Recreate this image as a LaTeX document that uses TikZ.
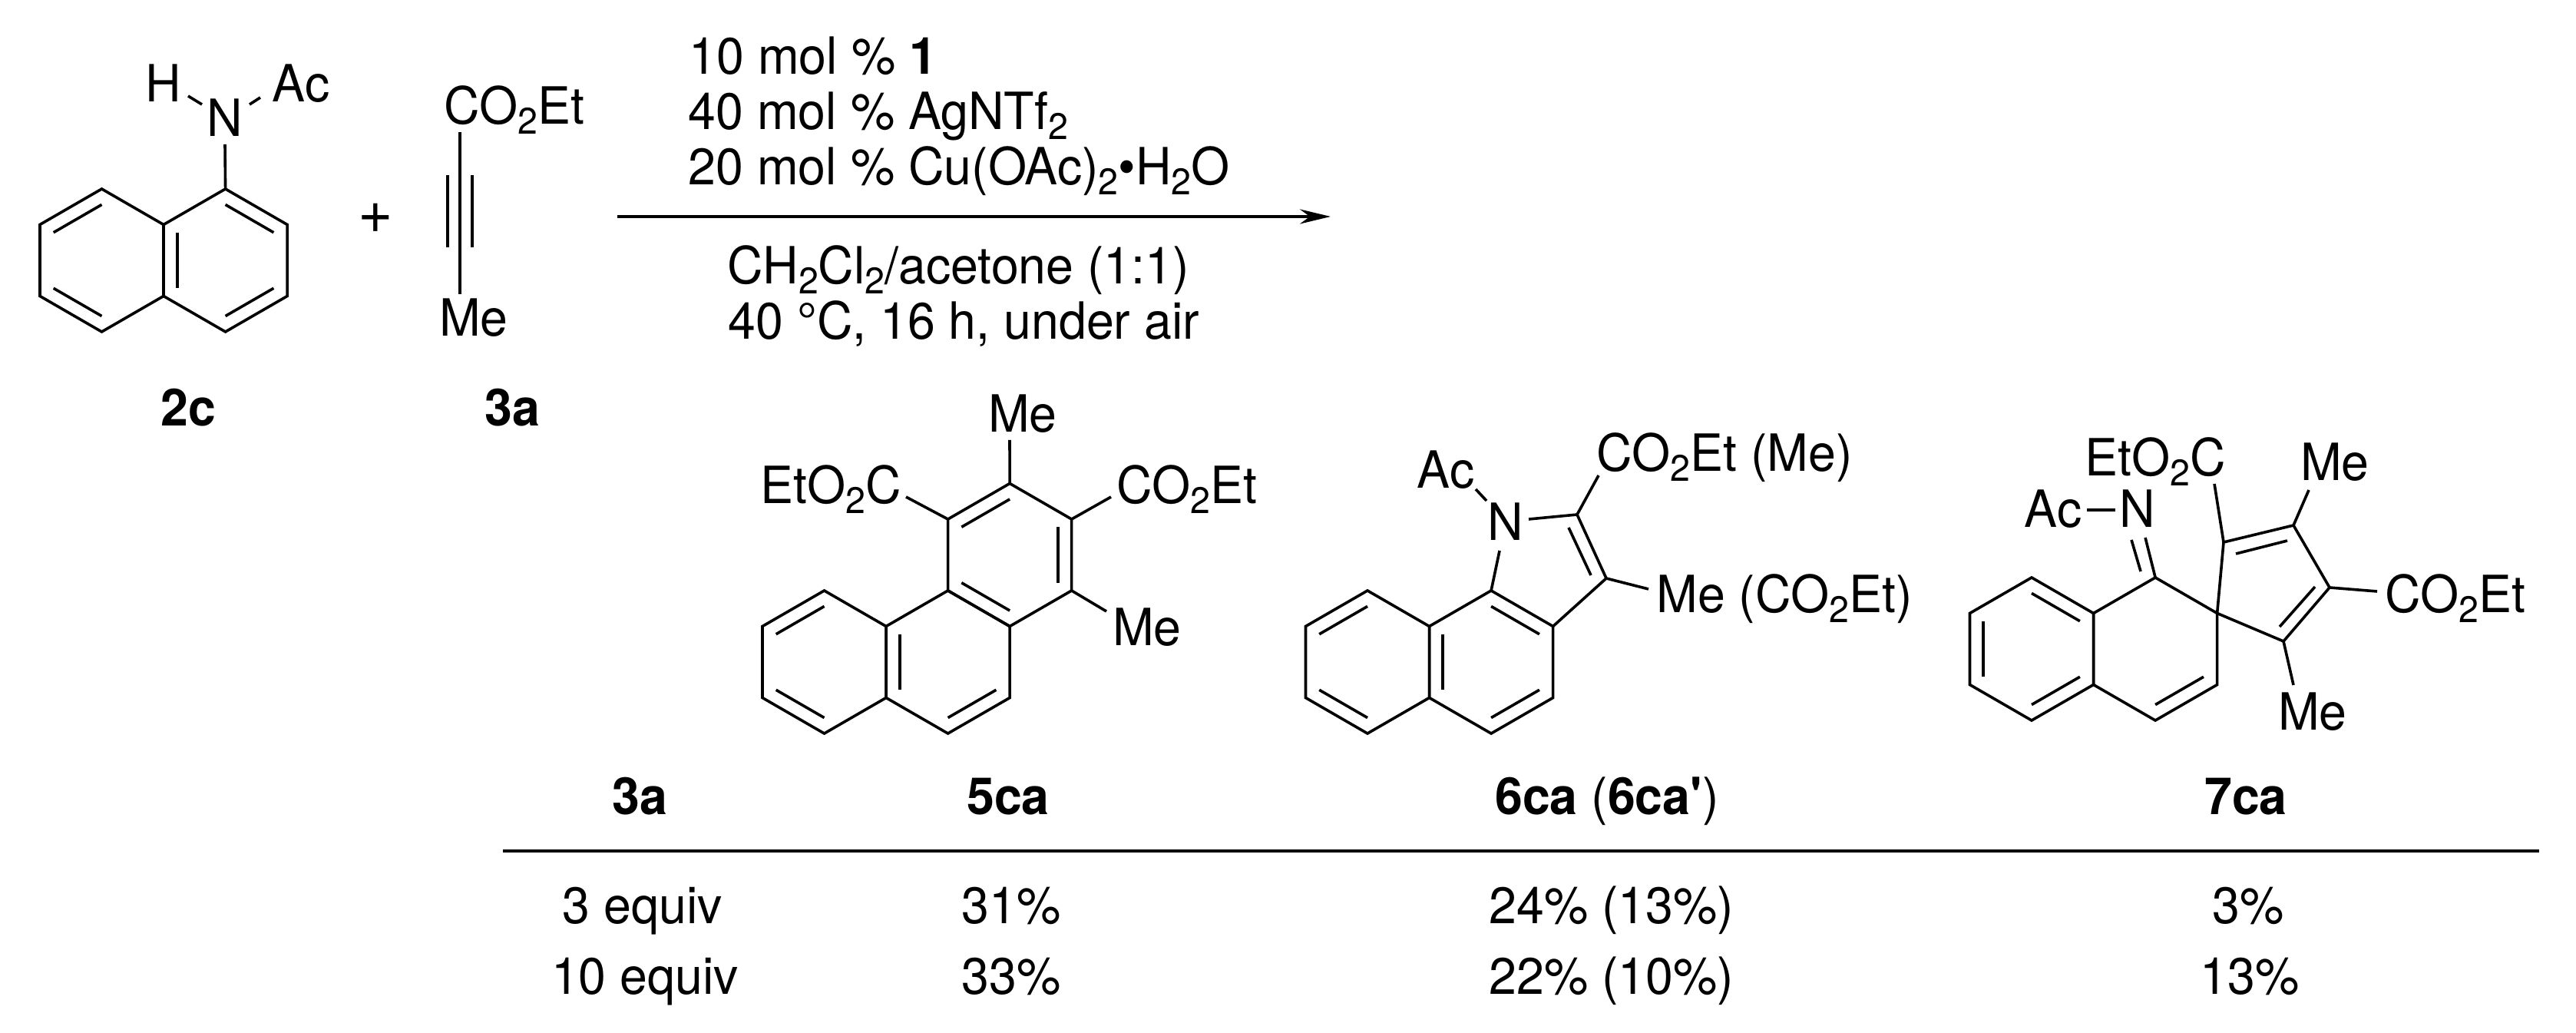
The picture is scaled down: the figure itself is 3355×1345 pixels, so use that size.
\documentclass[tikz,border=0pt]{standalone}
\usepackage{fontspec}
\setmainfont[FakeStretch=0.965]{TeX Gyre Heros}
\usetikzlibrary{calc,arrows.meta}
\tikzset{
  bond/.style={line width=0.36mm},
  rulebar/.style={line width=0.4mm},
  atomtext/.style={inner sep=0pt, anchor=base, font=\fontsize{19}{23}\selectfont},
  condtext/.style={atomtext, anchor=base west},
  numtext/.style={atomtext, font=\fontsize{19}{23}\selectfont\bfseries}
}
\newcommand{\subtwo}{\raisebox{-0.18em}{\fontsize{13.7}{16}\selectfont 2}}
\newcommand{\hexring}[3]{
  \coordinate (#1o) at (#2,#3);
  \foreach \atom/\ang in {a/90,b/30,c/-30,d/-90,e/210,f/150} {
    \coordinate (#1\atom) at ({#2+93*cos(\ang)},{#3-93*sin(\ang)});
  }
  \draw[bond] (#1a) -- (#1b) -- (#1c) -- (#1d) -- (#1e) -- (#1f) -- cycle;
}
\begin{document}
\begin{tikzpicture}[x=0.1mm,y=-0.1mm]
  \useasboundingbox (0,0) rectangle (3355,1345);

  \hexring{naL}{132.5}{339}
  \hexring{naR}{293.58}{339}
  \hexring{phA}{1073.5}{862}
  \hexring{phB}{1234.58}{862}
  \hexring{phC}{1315.12}{722.5}
  \hexring{inA}{1781}{862}
  \hexring{inB}{1942.08}{862}
  \hexring{spA}{2646}{845}
  \hexring{spB}{2807.08}{845}

  \foreach \ring/\p/\q in {naL/f/a,naL/e/d,naR/f/e,naR/a/b,naR/c/d,
      phA/f/a,phA/e/d,phB/f/e,phB/c/d,phC/e/d,phC/f/a,phC/b/c,
      inA/f/a,inA/e/d,inB/f/e,inB/a/b,inB/c/d,
      spA/a/b,spA/e/f,spA/c/d,spB/c/d} {
    \draw[bond] ($(\ring\p)!0.22!(\ring o)$) -- ($(\ring\q)!0.22!(\ring o)$);
  }

  \node[atomtext] (naH) at (213,133) {H};
  \node[atomtext] (naN) at (293,178) {N};
  \node[atomtext] (naAc) at (392,133) {Ac};
  \coordinate (naNa) at (293,188);
  \coordinate (naNb) at (263,136);
  \coordinate (naHb) at (245,125);
  \coordinate (naNc) at (325,136);
  \coordinate (naAcb) at (339,127);
  \draw[bond] (naRa) -- (naNa);
  \draw[bond] (naNb) -- (naHb);
  \draw[bond] (naNc) -- (naAcb);

  \node[atomtext, font=\fontsize{23}{27}\selectfont] (plus) at (489,304) {+};

  \node[atomtext] (alkEster) at (670,162) {CO\subtwo Et};
  \node[atomtext] (alkMe) at (617,438) {Me};
  \coordinate (alkT) at (599,172);
  \coordinate (alkB) at (599,383);
  \draw[bond] (alkT) -- (alkB);
  \foreach \dx in {-16,16} {
    \draw[bond] (599+\dx,228) -- (599+\dx,322);
  }

  \node[numtext] (lab2c) at (245,555) {2c};
  \node[numtext] (lab3a) at (667,555) {3a};

  \node[condtext] (condA) at (897,97) {10 mol \% \textbf{1}};
  \node[condtext] (condB) at (896,169) {40 mol \% AgNTf\subtwo};
  \node[condtext] (condC) at (896,241) {20 mol \% Cu(OAc)\subtwo\textbullet H\subtwo O};
  \node[condtext] (condD) at (947,370) {CH\subtwo Cl\subtwo/acetone (1:1)};
  \node[condtext] (condE) at (948,442) {40 °C, 16 h, under air};
  \coordinate (arrowS) at (804,282);
  \coordinate (arrowE) at (1733,282);
  \draw[rulebar,-{Stealth[length=4mm,width=1.9mm]}] (arrowS) -- (arrowE);

  \node[atomtext] (phMeT) at (1332,563) {Me};
  \node[atomtext] (phEsterL) at (1082,656) {EtO\subtwo C};
  \node[atomtext] (phEsterR) at (1546,656) {CO\subtwo Et};
  \node[atomtext] (phMeB) at (1494,841) {Me};
  \coordinate (phMeTb) at (1315,573);
  \coordinate (phEsterLb) at (1180,647);
  \coordinate (phEsterRb) at (1447,647);
  \coordinate (phMeBb) at (1441,796);
  \draw[bond] (phCa) -- (phMeTb);
  \draw[bond] (phCf) -- (phEsterLb);
  \draw[bond] (phCb) -- (phEsterRb);
  \draw[bond] (phCc) -- (phMeBb);

  \node[atomtext] (inAc) at (1883,636) {Ac};
  \node[atomtext] (inN) at (1961,704) {N};
  \node[atomtext] (inEster) at (2246,614) {CO\subtwo Et (Me)};
  \node[atomtext] (inMe) at (2324,798) {Me (CO\subtwo Et)};
  \coordinate (inCa) at (2054,670);
  \coordinate (inCb) at (2092,753);
  \coordinate (inNa) at (1953,717);
  \coordinate (inNb) at (1991,676);
  \coordinate (inNc) at (1936,652);
  \coordinate (inAcb) at (1922,637);
  \coordinate (inEsterb) at (2082,619);
  \coordinate (inMeb) at (2147,767);
  \coordinate (inDa) at (2043,687);
  \coordinate (inDb) at (2072,749);
  \draw[bond] (inBa) -- (inNa);
  \draw[bond] (inNb) -- (inCa) -- (inCb) -- (inBb);
  \draw[bond] (inDa) -- (inDb);
  \draw[bond] (inNc) -- (inAcb);
  \draw[bond] (inCa) -- (inEsterb);
  \draw[bond] (inCb) -- (inMeb);

  \node[atomtext] (spAc) at (2674,687) {Ac};
  \node[atomtext] (spN) at (2784,687) {N};
  \node[atomtext] (spEsterT) at (2807,620) {EtO\subtwo C};
  \node[atomtext] (spMeT) at (3041,626) {Me};
  \node[atomtext] (spEsterR) at (3198,798) {CO\subtwo Et};
  \node[atomtext] (spMeB) at (3012,950) {Me};
  \coordinate (spCa) at (2896,706);
  \coordinate (spCb) at (2987,684);
  \coordinate (spCc) at (3034,765);
  \coordinate (spCd) at (2974,835);
  \coordinate (spDa) at (2912,721);
  \coordinate (spDb) at (2979,704);
  \coordinate (spDc) at (3015,764);
  \coordinate (spDd) at (2969,816);
  \coordinate (spIa) at (2794,700);
  \coordinate (spIb) at (2776,703);
  \coordinate (spIc) at (2788,744);
  \coordinate (spAcb) at (2718,664);
  \coordinate (spNb) at (2755,664);
  \coordinate (spEsterTb) at (2884,630);
  \coordinate (spMeTb) at (3007,638);
  \coordinate (spEsterRb) at (3096,770);
  \coordinate (spMeBb) at (2987,892);
  \draw[bond] (spBb) -- (spCa) -- (spCb) -- (spCc) -- (spCd) -- cycle;
  \draw[bond] (spDa) -- (spDb);
  \draw[bond] (spDc) -- (spDd);
  \draw[bond] (spBa) -- (spIa);
  \draw[bond] (spIb) -- (spIc);
  \draw[bond] (spAcb) -- (spNb);
  \draw[bond] (spCa) -- (spEsterTb);
  \draw[bond] (spCb) -- (spMeTb);
  \draw[bond] (spCc) -- (spEsterRb);
  \draw[bond] (spCd) -- (spMeBb);

  \node[numtext] (headA) at (833,1060) {3a};
  \node[numtext] (headB) at (1313,1060) {5ca};
  \node[atomtext] (headC) at (2093,1060) {\textbf{6ca} (\textbf{6ca\textquotesingle})};
  \node[numtext] (headD) at (2925,1060) {7ca};
  \coordinate (ruleS) at (655,1108);
  \coordinate (ruleE) at (3307,1108);
  \draw[rulebar] (ruleS) -- (ruleE);

  \foreach \nm/\x/\y/\txt in {rowA/837/1202/3 equiv,rowB/840/1294/10 equiv,
      resA/1317/1202/31\%,resB/1317/1294/33\%,
      resC/2099/1202/24\% (13\%),resD/2099/1294/22\% (10\%),
      resE/2928/1202/3\%,resF/2930/1294/13\%} {
    \node[atomtext] (\nm) at (\x,\y) {\txt};
  }
\end{tikzpicture}
\end{document}
